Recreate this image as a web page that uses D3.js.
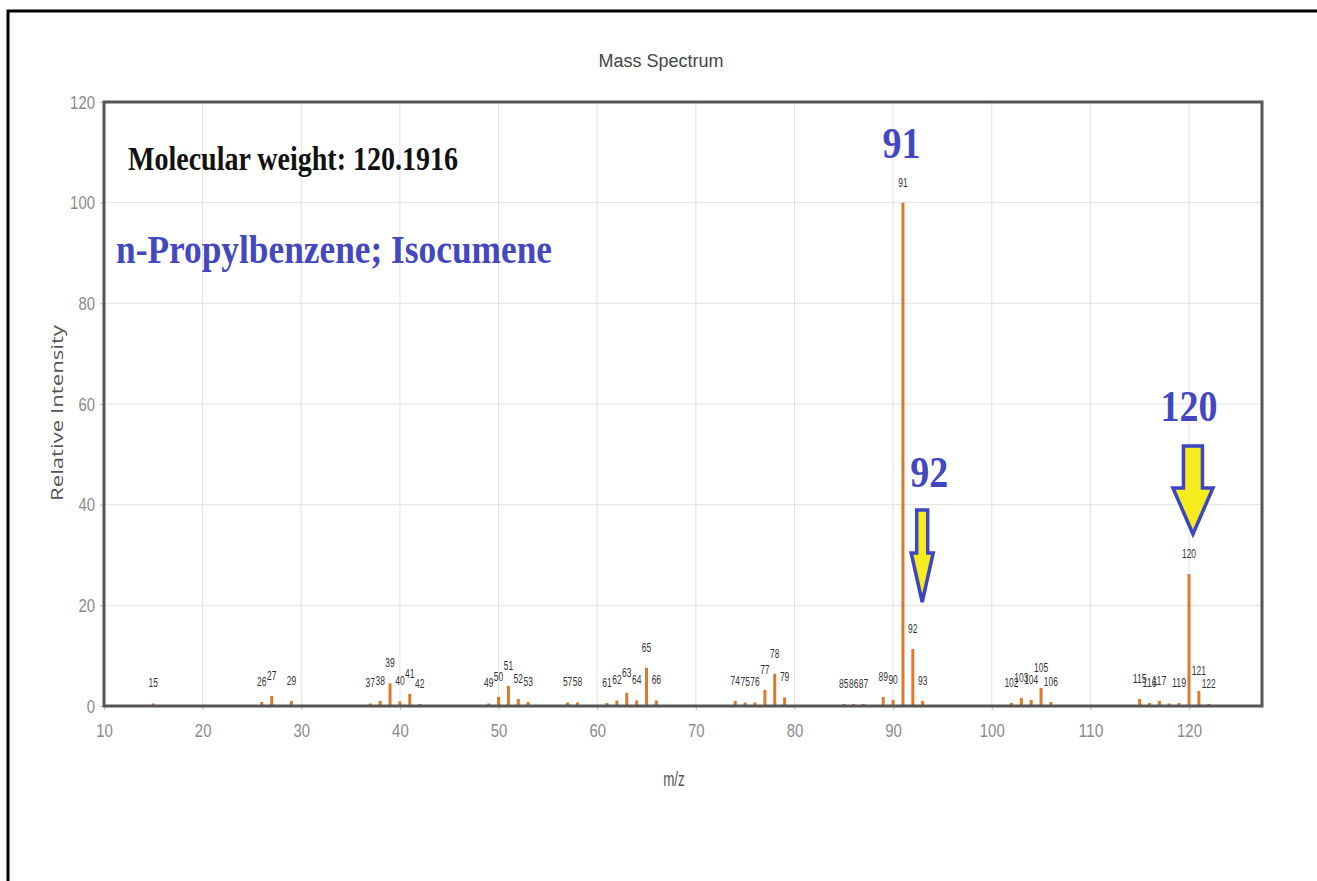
<!DOCTYPE html>
<html>
<head>
<meta charset="utf-8">
<script src="https://cdn.jsdelivr.net/npm/d3@7/dist/d3.min.js"></script>
<style>
  html, body { margin: 0; padding: 0; background: #fff; }
  svg { display: block; }
</style>
</head>
<body>
<svg id="chart" width="1317" height="881"></svg>
<script>
// m/z values of the observed fragments
const mzValues = [15, 26, 27, 29, 37, 38, 39, 40, 41, 42, 49, 50, 51, 52, 53, 57, 58,
  61, 62, 63, 64, 65, 66, 74, 75, 76, 77, 78, 79, 85, 86, 87, 89, 90, 91, 92, 93,
  102, 103, 104, 105, 106, 115, 116, 117, 118, 119, 120, 121, 122];
// relative intensity of each fragment (base peak = 100)
const intensities = [0.5, 0.8, 2.0, 1.0, 0.5, 1.0, 4.5, 0.9, 2.4, 0.4, 0.5, 1.8, 4.0, 1.4, 0.8, 0.7, 0.7,
  0.6, 1.1, 2.6, 1.1, 7.6, 1.1, 1.0, 0.7, 0.7, 3.2, 6.4, 1.7, 0.4, 0.4, 0.4, 1.8, 1.2, 100, 11.3, 1.0,
  0.6, 1.6, 1.2, 3.6, 0.8, 1.4, 0.6, 1.0, 0.5, 0.6, 26.2, 3.0, 0.4];
// peaks whose small label is suppressed
const unlabeled = [118];
const xTicks = [10, 20, 30, 40, 50, 60, 70, 80, 90, 100, 110, 120];
const yTicks = [0, 20, 40, 60, 80, 100, 120];
// highlighted peaks
const arrowPeaks = [92, 120];
const calloutPeaks = [91, 92, 120];

const peaks = mzValues.map((m, i) => ({ mz: m, v: intensities[i] }));

const svg = d3.select("#chart");
const plot = { left: 104, top: 102, right: 1262, bottom: 706 };

const x = d3.scaleLinear().domain([10, 127.4]).range([plot.left, plot.right]);
const y = d3.scaleLinear().domain([0, 120]).range([plot.bottom, plot.top]);

// narrow text helper: squeezes glyphs to a given advance per character
const narrow = (sel, perChar) => sel
  .attr("textLength", function () { return this.textContent.length * perChar; })
  .attr("lengthAdjust", "spacingAndGlyphs");

// page frame
svg.append("rect")
  .attr("x", 8).attr("y", 11).attr("width", 1330).attr("height", 900)
  .attr("fill", "none").attr("stroke", "#000").attr("stroke-width", 3);

// grid
const grid = svg.append("g");
grid.selectAll(".vg").data(xTicks).join("line")
  .attr("x1", d => x(d)).attr("x2", d => x(d))
  .attr("y1", plot.top).attr("y2", plot.bottom)
  .attr("stroke", "#e2e2e2").attr("stroke-width", 1);
grid.selectAll(".hg").data(yTicks).join("line")
  .attr("x1", plot.left).attr("x2", plot.right)
  .attr("y1", d => y(d)).attr("y2", d => y(d))
  .attr("stroke", "#e2e2e2").attr("stroke-width", 1);

// axes
const sans = "'Liberation Sans', Arial, sans-serif";
const xAxis = svg.append("g")
  .attr("transform", `translate(0,${plot.bottom})`)
  .call(d3.axisBottom(x).tickValues(xTicks).tickSize(4).tickPadding(14));
const yAxis = svg.append("g")
  .attr("transform", `translate(${plot.left},0)`)
  .call(d3.axisLeft(y).tickValues(yTicks).tickSize(4).tickPadding(5));
[xAxis, yAxis].forEach(a => {
  a.select(".domain").remove();
  a.selectAll(".tick line").attr("stroke", "#bbb");
  a.selectAll(".tick text")
    .attr("fill", "#8a8a8a")
    .style("font-family", sans)
    .style("font-size", "19px")
    .call(narrow, 8.3);
});

// bars
const barW = 3;
svg.append("g").selectAll("rect").data(peaks).join("rect")
  .attr("x", d => x(d.mz) - barW / 2)
  .attr("y", d => y(d.v))
  .attr("width", barW)
  .attr("height", d => y(0) - y(d.v))
  .attr("fill", "#dc7a2c");

// peak labels
svg.append("g").selectAll("text")
  .data(peaks.filter(d => !unlabeled.includes(d.mz))).join("text")
  .attr("x", d => x(d.mz))
  .attr("y", d => y(d.v) - 16)
  .attr("text-anchor", "middle")
  .attr("fill", "#333")
  .style("font-family", sans)
  .style("font-size", "12px")
  .text(d => d.mz)
  .call(narrow, 4.7);

// plot frame
svg.append("rect")
  .attr("x", plot.left).attr("y", plot.top)
  .attr("width", plot.right - plot.left).attr("height", plot.bottom - plot.top)
  .attr("fill", "none").attr("stroke", "#555").attr("stroke-width", 3);

// titles
svg.append("text")
  .attr("x", 661).attr("y", 67)
  .attr("text-anchor", "middle")
  .attr("fill", "#444")
  .style("font-family", sans)
  .style("font-size", "18px")
  .text("Mass Spectrum")
  .call(narrow, 9.6);

svg.append("text")
  .attr("x", 674).attr("y", 786)
  .attr("text-anchor", "middle")
  .attr("fill", "#555")
  .style("font-family", sans)
  .style("font-size", "21px")
  .text("m/z")
  .call(narrow, 7.2);

svg.append("text")
  .attr("transform", "translate(63,413) rotate(-90) scale(1,0.75)")
  .attr("text-anchor", "middle")
  .attr("fill", "#555")
  .style("font-family", "'Open Sans', sans-serif")
  .style("font-size", "21px")
  .text("Relative Intensity")
  .attr("textLength", 176)
  .attr("lengthAdjust", "spacingAndGlyphs");

// compound annotations
const serif = "'Liberation Serif', 'Times New Roman', serif";
svg.append("text")
  .attr("x", 128).attr("y", 170)
  .attr("fill", "#111")
  .style("font-family", serif).style("font-weight", "bold").style("font-size", "33px")
  .text("Molecular weight: 120.1916")
  .attr("textLength", 330).attr("lengthAdjust", "spacingAndGlyphs");

svg.append("text")
  .attr("x", 116).attr("y", 263)
  .attr("fill", "#4348c0")
  .style("font-family", serif).style("font-weight", "bold").style("font-size", "40px")
  .text("n-Propylbenzene; Isocumene")
  .attr("textLength", 436).attr("lengthAdjust", "spacingAndGlyphs");

// callout numbers above key peaks
const calloutPos = { 91: [-1.5, 158], 92: [16.5, 487], 120: [0, 421] };
svg.append("g").selectAll("text").data(calloutPeaks).join("text")
  .attr("x", d => x(d) + calloutPos[d][0])
  .attr("y", d => calloutPos[d][1])
  .attr("text-anchor", "middle")
  .attr("fill", "#4348c0")
  .style("font-family", serif).style("font-weight", "bold").style("font-size", "45px")
  .text(d => d)
  .call(narrow, 19);

// down arrows pointing at peaks
const arrowGeom = {
  92: { dx: 0.95, top: 510, neck: 553, tip: 602, shaft: 11, head: 22 },
  120: { dx: 0.4, top: 446, neck: 488, tip: 534, shaft: 19, head: 40 }
};
svg.append("g").selectAll("path").data(arrowPeaks).join("path")
  .attr("d", d => {
    const g = arrowGeom[d];
    const cx = x(d + g.dx);
    const s = g.shaft / 2, h = g.head / 2;
    return `M${cx - s},${g.top} L${cx + s},${g.top} L${cx + s},${g.neck} L${cx + h},${g.neck}` +
      ` L${cx},${g.tip} L${cx - h},${g.neck} L${cx - s},${g.neck} Z`;
  })
  .attr("fill", "#f7ec1e")
  .attr("stroke", "#3d45c4")
  .attr("stroke-width", 3.5)
  .attr("stroke-linejoin", "miter");
</script>
</body>
</html>
